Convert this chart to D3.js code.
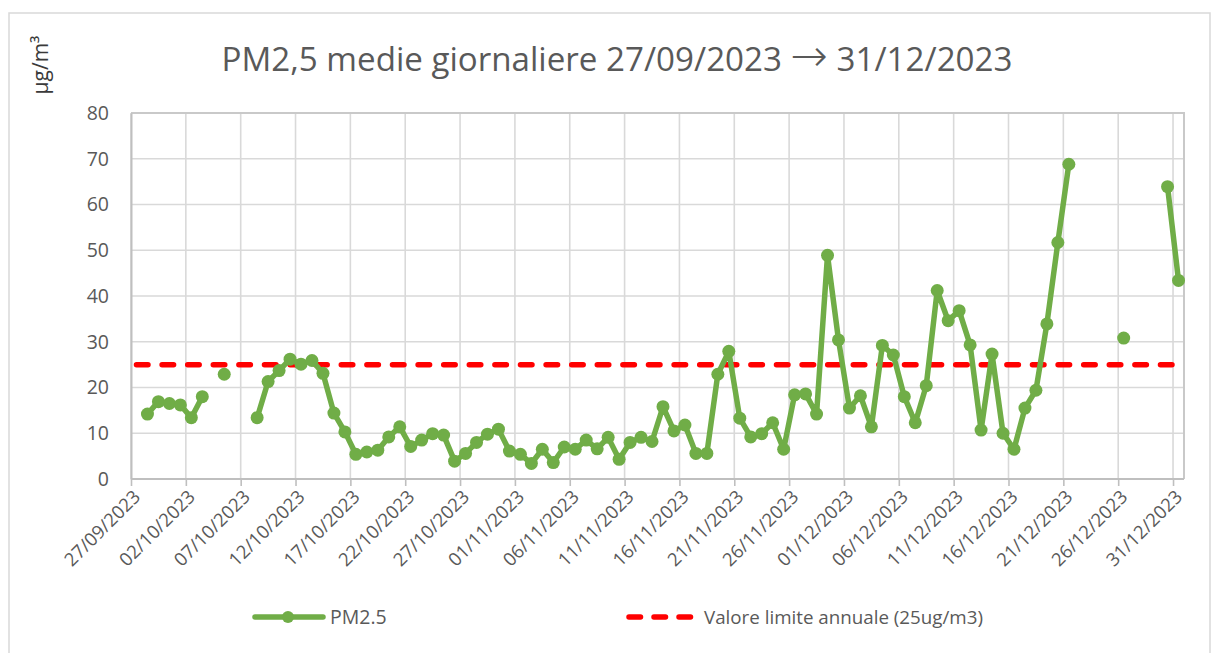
<!DOCTYPE html>
<html>
<head>
<meta charset="utf-8">
<script src="https://cdn.jsdelivr.net/npm/d3@7"></script>
<style>
    body { margin: 0; background: #fff; }
    text { font-family: "Open Sans", "Noto Sans", sans-serif; }
</style>
</head>
<body>
<div id="chart"></div>
<script>
// daily PM2.5 means, one per day starting 27/09/2023 (null = no data)
var startDate = [2023, 8, 27];
var pm25 = [
    null, 14.2, 16.9, 16.5, 16.2, 13.4, 18.0, null, 22.9, null,
    null, 13.4, 21.3, 23.7, 26.2, 25.1, 25.9, 23.1, 14.4, 10.3,
    5.4, 5.9, 6.3, 9.2, 11.4, 7.1, 8.5, 9.9, 9.6, 3.9,
    5.6, 8.0, 9.8, 10.9, 6.1, 5.4, 3.4, 6.5, 3.6, 7.0,
    6.5, 8.5, 6.6, 9.1, 4.3, 8.0, 9.1, 8.2, 15.8, 10.5,
    11.8, 5.6, 5.6, 22.9, 27.9, 13.3, 9.2, 9.9, 12.3, 6.5,
    18.4, 18.6, 14.2, 48.9, 30.4, 15.5, 18.2, 11.4, 29.2, 27.1,
    18.0, 12.3, 20.4, 41.2, 34.6, 36.8, 29.3, 10.7, 27.3, 10.0,
    6.5, 15.5, 19.4, 33.9, 51.7, 68.8, null, null, null, null,
    30.8, null, null, null, 63.9, 43.4
];
var limitValue = 25;
var yTicks = [0, 10, 20, 30, 40, 50, 60, 70, 80];
var tickEveryDays = 5;
var titleParts = ["PM2,5 medie giornaliere 27/09/2023 ", "\u2192", " 31/12/2023"];
var unitText = "\u00b5g/m\u00b3";
var legendNames = ["PM2.5", "Valore limite annuale (25ug/m3)"];

var svgWidth = 1213, svgHeight = 653;
var plot = {left: 131, right: 1184, top: 113, bottom: 479};
var green = "#70ad47", red = "#ff0000", textGray = "#595959";

var t0 = new Date(Date.UTC(startDate[0], startDate[1], startDate[2]));
var t1 = d3.utcDay.offset(t0, pm25.length);   // 01/01/2024

var data = pm25.map(function (v, i) {
    return {date: d3.utcDay.offset(t0, i), v: v};
});

var x = d3.scaleUtc().domain([t0, t1]).range([plot.left, plot.right]);
var y = d3.scaleLinear().domain([0, 80]).range([plot.bottom, plot.top]);

// points sit in the middle of each day slot
function px(d) { return x(d.date) + (x(d3.utcDay.offset(t0, 1)) - x(t0)) / 2; }

var svg = d3.select("#chart").append("svg")
    .attr("width", svgWidth)
    .attr("height", svgHeight);

// chart area border
svg.append("path")
    .attr("d", "M9,660V13H1210V660")
    .attr("fill", "none")
    .attr("stroke", "#d9d9d9")
    .attr("stroke-width", 1.5);

// title, fitted to the width seen in the picture
var title = svg.append("text")
    .attr("x", 617)
    .attr("y", 71)
    .attr("text-anchor", "middle")
    .attr("fill", textGray)
    .attr("font-size", 30);
title.selectAll("tspan")
    .data(titleParts)
    .enter()
    .append("tspan")
    .attr("font-family", function (d, i) { return i === 1 ? "DejaVu Sans" : null; })
    .attr("font-size", function (d, i) { return i === 1 ? "1.35em" : null; })
    .attr("font-weight", function (d, i) { return i === 1 ? 300 : null; })
    .text(function (d) { return d; });
var tl = title.node().getComputedTextLength();
title.attr("font-size", 30 * 791 / tl);

svg.append("text")
    .attr("transform", "translate(48,65) rotate(-90)")
    .attr("text-anchor", "middle")
    .attr("fill", "#3a3a3a")
    .attr("font-size", 21)
    .text(unitText);

var xTickDates = d3.utcDay.range(t0, d3.utcDay.offset(t1, 1), tickEveryDays)
    .filter(function (d) { return d <= d3.utcDay.offset(t0, pm25.length - 1); });

// grid
var grid = svg.append("g").attr("class", "grid");
grid.selectAll("line.h")
    .data(yTicks)
    .enter()
    .append("line")
    .attr("x1", plot.left).attr("x2", plot.right)
    .attr("y1", function (d) { return y(d); })
    .attr("y2", function (d) { return y(d); })
    .attr("stroke", "#d9d9d9")
    .attr("stroke-width", 1.6);
grid.selectAll("line.v")
    .data(xTickDates)
    .enter()
    .append("line")
    .attr("x1", function (d) { return x(d); })
    .attr("x2", function (d) { return x(d); })
    .attr("y1", plot.top).attr("y2", plot.bottom)
    .attr("stroke", "#d9d9d9")
    .attr("stroke-width", 1.6);

// frame: right and top edges
svg.append("path")
    .attr("d", "M" + plot.left + "," + plot.top + "H" + plot.right + "V" + plot.bottom)
    .attr("fill", "none")
    .attr("stroke", "#c9c9c9")
    .attr("stroke-width", 2);

// y axis (labels only, gray line)
var yAxis = svg.append("g")
    .attr("transform", "translate(" + plot.left + ",0)")
    .call(d3.axisLeft(y).tickValues(yTicks).tickSize(0).tickPadding(22));
yAxis.select(".domain").attr("stroke", "#bfbfbf").attr("stroke-width", 2);
yAxis.selectAll("text")
    .attr("fill", textGray)
    .attr("font-size", 19.5)
    .attr("font-family", "Open Sans");

// x axis
var xAxis = svg.append("g")
    .attr("transform", "translate(0," + plot.bottom + ")")
    .call(d3.axisBottom(x).tickValues(xTickDates).tickSize(7)
        .tickFormat(d3.utcFormat("%d/%m/%Y")));
xAxis.select(".domain").attr("stroke", "#bfbfbf").attr("stroke-width", 2)
    .attr("d", "M" + plot.left + ",0H" + plot.right);
xAxis.selectAll(".tick line").attr("stroke", "#bfbfbf").attr("stroke-width", 1.6);
xAxis.selectAll("text")
    .attr("fill", textGray)
    .attr("font-size", 18.5)
    .attr("font-family", "Open Sans")
    .attr("text-anchor", "end")
    .attr("y", 0)
    .attr("dy", 0)
    .attr("transform", "translate(10,19) rotate(-45)");

// limit line
var limitLine = d3.line()
    .x(px)
    .y(function () { return y(limitValue); });
svg.append("path")
    .datum(data)
    .attr("d", limitLine)
    .attr("fill", "none")
    .attr("stroke", red)
    .attr("stroke-width", 5.5)
    .attr("stroke-linecap", "round")
    .attr("stroke-dasharray", "11.5 14.1");

// PM2.5 series
var line = d3.line()
    .defined(function (d) { return d.v !== null; })
    .x(px)
    .y(function (d) { return y(d.v); });
svg.append("path")
    .datum(data)
    .attr("d", line)
    .attr("fill", "none")
    .attr("stroke", green)
    .attr("stroke-width", 5.5)
    .attr("stroke-linejoin", "round");

svg.append("g").selectAll("circle")
    .data(data.filter(function (d) { return d.v !== null; }))
    .enter()
    .append("circle")
    .attr("cx", px)
    .attr("cy", function (d) { return y(d.v); })
    .attr("r", 6.5)
    .attr("fill", green);

// legend
var legend = svg.append("g");
legend.append("line")
    .attr("x1", 255).attr("x2", 323).attr("y1", 617).attr("y2", 617)
    .attr("stroke", green).attr("stroke-width", 5.5).attr("stroke-linecap", "round");
legend.append("circle")
    .attr("cx", 288).attr("cy", 617).attr("r", 6).attr("fill", green);
legend.append("text")
    .attr("x", 330).attr("y", 624)
    .attr("fill", textGray).attr("font-size", 19.5)
    .text(legendNames[0]);
legend.append("line")
    .attr("x1", 629).attr("x2", 694).attr("y1", 617).attr("y2", 617)
    .attr("stroke", red).attr("stroke-width", 5.5).attr("stroke-linecap", "round")
    .attr("stroke-dasharray", "11.5 13.5");
var lt = legend.append("text")
    .attr("x", 704).attr("y", 624)
    .attr("fill", textGray).attr("font-size", 19)
    .text(legendNames[1]);
var ll = lt.node().getComputedTextLength();
lt.attr("font-size", 19 * 279 / ll);
</script>
</body>
</html>
